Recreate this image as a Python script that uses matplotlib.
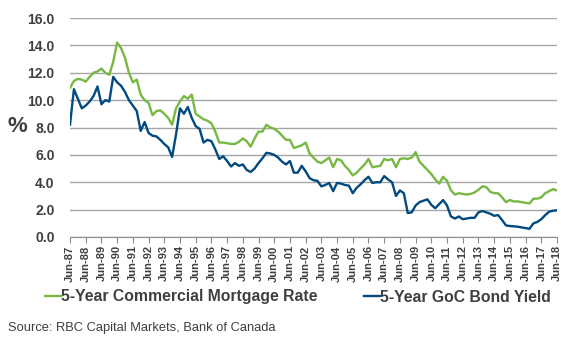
import matplotlib
matplotlib.use("Agg")
import matplotlib.pyplot as plt
import numpy as np

plt.rcParams["font.family"] = ["Liberation Sans", "DejaVu Sans"]

# Quarterly readings, Jun-87 .. Jun-18
mortgage = [10.9, 11.4, 11.55, 11.5, 11.35, 11.7, 12.0, 12.1, 12.3, 12.0,
            11.85, 12.8, 14.2, 13.8, 13.1, 12.0, 11.3, 11.5, 10.4, 10.0,
            9.8, 8.9, 9.2, 9.25, 9.0, 8.7, 8.2, 9.4, 9.9, 10.3,
            10.1, 10.4, 9.0, 8.8, 8.6, 8.5, 8.3, 7.7, 6.9, 6.9,
            6.85, 6.8, 6.8, 6.95, 7.2, 7.0, 6.6, 7.2, 7.7, 7.7,
            8.2, 8.0, 7.9, 7.7, 7.4, 7.1, 7.1, 6.5, 6.6, 6.7,
            6.9, 6.1, 5.8, 5.5, 5.4, 5.6, 5.8, 5.1, 5.7, 5.6,
            5.2, 4.9, 4.5, 4.7, 5.0, 5.3, 5.7, 5.1, 5.15, 5.2,
            5.7, 5.6, 5.7, 5.1, 5.7, 5.75, 5.7, 5.8, 6.2, 5.5,
            5.2, 4.9, 4.6, 4.2, 3.9, 4.4, 4.1, 3.4, 3.1, 3.2,
            3.15, 3.1, 3.15, 3.25, 3.45, 3.7, 3.65, 3.3, 3.2, 3.2,
            2.9, 2.55, 2.7, 2.6, 2.6, 2.55, 2.5, 2.45, 2.8, 2.8,
            2.9, 3.2, 3.35, 3.5, 3.4]

bond = [8.2, 10.8, 10.1, 9.4, 9.6, 9.9, 10.3, 11.0, 9.7, 10.0,
        9.9, 11.7, 11.3, 11.05, 10.6, 10.0, 9.6, 9.2, 7.75, 8.4,
        7.6, 7.4, 7.35, 7.1, 6.8, 6.55, 5.85, 7.5, 9.4, 9.0,
        9.5, 8.7, 8.1, 7.9, 6.9, 7.1, 7.0, 6.4, 5.7, 5.9,
        5.55, 5.15, 5.4, 5.2, 5.3, 4.9, 4.75, 5.0, 5.4, 5.75,
        6.15, 6.1, 6.0, 5.8, 5.5, 5.3, 5.55, 4.7, 4.7, 5.2,
        4.8, 4.3, 4.15, 4.1, 3.7, 3.8, 3.95, 3.35, 3.95, 3.9,
        3.8, 3.75, 3.2, 3.6, 3.85, 4.15, 4.4, 3.95, 4.0, 4.0,
        4.45, 4.2, 4.0, 3.0, 3.4, 3.2, 1.75, 1.8, 2.3, 2.55,
        2.65, 2.75, 2.35, 2.1, 2.4, 2.7, 2.3, 1.5, 1.35, 1.5,
        1.3, 1.35, 1.4, 1.4, 1.8, 1.9, 1.8, 1.7, 1.55, 1.6,
        1.25, 0.85, 0.8, 0.78, 0.75, 0.7, 0.65, 0.6, 1.0, 1.1,
        1.3, 1.6, 1.85, 1.92, 1.95]

years = list(range(1987, 2019))
tick_labels = [f"Jun-{y % 100:02d}" for y in years]
y_ticks = [0, 2, 4, 6, 8, 10, 12, 14, 16]

green = "#77b843"
blue = "#004a80"
text_col = "#3f3f3f"

fig = plt.figure(figsize=(5.61, 3.37), dpi=100)
ax = fig.add_axes([70 / 561, 1 - 237 / 337, 487 / 561, 219 / 337])

q = np.arange(len(mortgage))
ax.plot(q, mortgage, color=green, lw=1.7, label="5-Year Commercial Mortgage Rate")
ax.plot(q, bond, color=blue, lw=1.7, label="5-Year GoC Bond Yield")

ax.set_xlim(0, len(mortgage) - 1)
ax.set_ylim(0, 16)
ax.set_yticks(y_ticks)
ax.set_yticklabels([f"{v:.1f}" for v in y_ticks], fontsize=10,
                   fontweight="bold", color=text_col)
ax.set_xticks(np.arange(len(years)) * 4)
ax.set_xticklabels(tick_labels, rotation=90, fontsize=8,
                   fontweight="bold", color=text_col)
ax.tick_params(axis="y", length=0, pad=11)
ax.tick_params(axis="x", length=4, color="#8c8c8c", pad=2)

ax.grid(axis="y", color="#a6a6a6", lw=1)
ax.set_axisbelow(True)
for s in ["top", "right", "left"]:
    ax.spines[s].set_visible(False)
ax.spines["bottom"].set_color("#8c8c8c")

fig.text(7 / 561, 1 - 127 / 337, "%", fontsize=16, fontweight="bold",
         color=text_col, va="center")

fig.legend(loc="center left", bbox_to_anchor=(45 / 561, 1 - 297 / 337), ncol=2,
           frameon=False, handlelength=1.0, handletextpad=0.0,
           borderpad=0, borderaxespad=0,
           columnspacing=3.0, prop={"weight": "bold", "size": 11.3},
           labelcolor=text_col)

fig.text(8 / 561, 1 - 328 / 337, "Source: RBC Capital Markets, Bank of Canada",
         fontsize=9.3, color=text_col, va="center")

fig.savefig("out.png", dpi=100)
